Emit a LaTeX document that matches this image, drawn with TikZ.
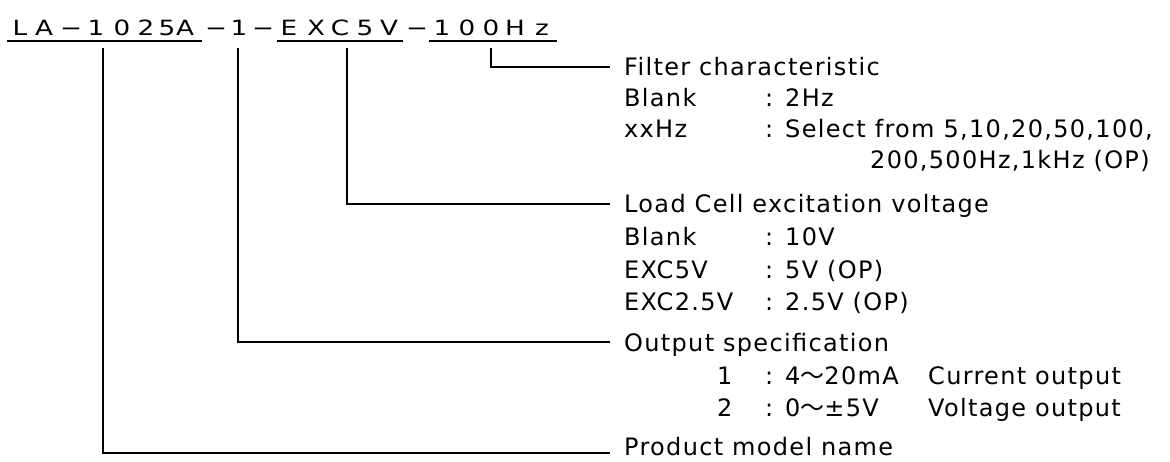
\documentclass[tikz,border=0pt]{standalone}
\usepackage{fontspec}
\setmainfont{DejaVu Sans}[LetterSpace=5.5]
\newfontfamily\hdrfont{DejaVu Sans}[FakeStretch=1.25]
\newfontfamily\cjkfont{Noto Sans CJK JP}
\newcommand{\wtilde}{{\cjkfont ～}}
\begin{document}
\begin{tikzpicture}[x=1pt,y=-1pt,
  lbl/.style={anchor=base west,inner sep=0pt,font=\fontsize{24}{28}\selectfont},
  hdr/.style={anchor=base,inner sep=0pt,font=\hdrfont\fontsize{21}{24}\selectfont},
  wire/.style={line width=1.6pt,line cap=rect},
  uline/.style={line width=2pt}]
\useasboundingbox (0,0) rectangle (1170,461);
% header characters
\foreach \xx/\cc [count=\i] in {20/L,44/A,71/−,96/1,122/0,146/2,167/5,185/A,216/−,239/1,263/−,289/E,316/X,340/C,365/5,389/V,417/−,442/1,467/0,491/0,515/H,542/z}
  \node[hdr] (h\i) at (\xx,35) {\cc};
% underlines
\coordinate (u1a) at (7,40.5);   \coordinate (u1b) at (202,40.5);
\coordinate (u2a) at (277,40.5); \coordinate (u2b) at (403,40.5);
\coordinate (u3a) at (429,40.5); \coordinate (u3b) at (557,40.5);
\draw[uline] (u1a) -- (u1b);
\draw[uline] (u2a) -- (u2b);
\draw[uline] (u3a) -- (u3b);
% tops of connectors
\coordinate (tp) at (103,49);
\coordinate (to) at (238,49);
\coordinate (te) at (347,49);
\coordinate (tf) at (491,49);
% ends of connectors
\coordinate (ef) at (609,67);
\coordinate (ee) at (609,204);
\coordinate (eo) at (609,342);
\coordinate (ep) at (609,453);
% Filter block
\node[lbl] (f0) at (624,75) {Filter characteristic};
\node[lbl] (f1a) at (624,106) {Blank};
\node[lbl] (f1b) at (765,106) {: 2Hz};
\node[lbl] (f2a) at (624,137) {xxHz};
\node[lbl] (f2b) at (765,137) {: Select from 5,10,20,50,100,};
\node[lbl] (f3) at (870,168) {200,500Hz,1kHz (OP)};
% Load cell block
\node[lbl] (l0) at (624,212.5) {Load Cell excitation voltage};
\node[lbl] (l1a) at (624,245) {Blank};
\node[lbl] (l1b) at (765,245) {: 10V};
\node[lbl] (l2a) at (624,278) {EXC5V};
\node[lbl] (l2b) at (765,278) {: 5V (OP)};
\node[lbl] (l3a) at (624,310.5) {EXC2.5V};
\node[lbl] (l3b) at (765,310.5) {: 2.5V (OP)};
% Output block
\node[lbl] (o0) at (624,351) {Output specification};
\node[lbl] (o1a) at (717,384) {1};
\node[lbl] (o1b) at (765,384) {: 4\wtilde20mA};
\node[lbl] (o1c) at (928,384) {Current output};
\node[lbl] (o2a) at (717,416.5) {2};
\node[lbl] (o2b) at (765,416.5) {: 0\wtilde±5V};
\node[lbl] (o2c) at (928,416.5) {Voltage output};
% Product
\node[lbl] (p0) at (624,455.5) {Product model name};
% connectors
\draw[wire] (tf) |- (ef);
\draw[wire] (te) |- (ee);
\draw[wire] (to) |- (eo);
\draw[wire] (tp) |- (ep);
\end{tikzpicture}
\end{document}
